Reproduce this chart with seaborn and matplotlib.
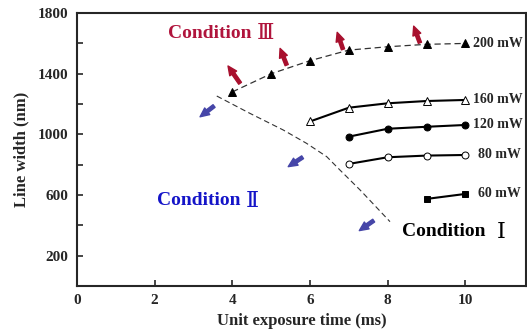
import numpy as np
import pandas as pd
import matplotlib
matplotlib.use("Agg")
import matplotlib.pyplot as plt
import seaborn as sns

# exposure time (ms) and line width (nm) for each laser power
powers = ["200 mW", "160 mW", "120 mW", "80 mW", "60 mW"]
t_200 = [4, 5, 6, 7, 8, 9, 10]
w_200 = [1280, 1400, 1486, 1556, 1578, 1594, 1600]
t_160 = [6, 7, 8, 9, 10]
w_160 = [1085, 1176, 1205, 1220, 1227]
t_120 = [7, 8, 9, 10]
w_120 = [985, 1037, 1050, 1062]
t_80 = [7, 8, 9, 10]
w_80 = [805, 849, 860, 864]
t_60 = [9, 10]
w_60 = [574, 607]

# dashed boundary between condition II and condition I
bound_t = [3.6, 4.45, 5.31, 5.91, 6.43, 6.77, 7.29, 8.06]
bound_w = [1253, 1139, 1029, 941, 853, 765, 633, 424]

# arrows (tail -> head), data coords
red_arrows = [((4.20, 1337), (3.89, 1451)), ((5.40, 1457), (5.23, 1567)),
              ((6.85, 1561), (6.70, 1673)), ((8.83, 1604), (8.67, 1714))]
blue_arrows = [((3.53, 1187), (3.17, 1116)), ((5.81, 849), (5.44, 787)),
               ((7.64, 431), (7.27, 365))]

# region labels: (word x, numeral x, y, numeral, colour)
conditions = [(2.34, 4.64, 1668, "Ⅲ", "#b0143c"),
              (2.05, 4.35, 561, "Ⅱ", "#1414c8"),
              (8.36, 10.82, 358, "Ⅰ", "black")]

sns.set_style("ticks")
plt.rcParams["font.family"] = ["Liberation Serif", "DejaVu Serif"]
plt.rcParams["font.weight"] = "bold"

fig = plt.figure(figsize=(5.27, 3.36), dpi=100)
ax = fig.add_axes([0.146, 0.149, 0.852, 0.812])

series = [
    (t_200, w_200, "^", "black", (0, (5, 3)), 0.9, "#333333"),
    (t_160, w_160, "^", "white", "-", 1.5, "black"),
    (t_120, w_120, "o", "black", "-", 1.5, "black"),
    (t_80, w_80, "o", "white", "-", 1.5, "black"),
    (t_60, w_60, "s", "black", "-", 1.5, "black"),
]
for (t, w, m, fc, ls, lw, lc), name in zip(series, powers):
    df = pd.DataFrame({"t": t, "w": w})
    sns.lineplot(data=df, x="t", y="w", ax=ax, color=lc, linestyle=ls, linewidth=lw,
                 marker=m, markersize=5.2 if m == "^" else 5, markerfacecolor=fc,
                 markeredgecolor="black", markeredgewidth=0.7)
    dx = 0.2 if name in ("200 mW", "160 mW", "120 mW") else 0.32
    ax.text(t[-1] + dx, w[-1], name, fontsize=10, fontweight="bold", va="center", ha="left")

sns.lineplot(x=bound_t, y=bound_w, ax=ax, color="#333333", linestyle=(0, (5, 3)), linewidth=0.8)

style = "simple,head_width=0.6,head_length=0.65,tail_width=0.24"
for (tail, head) in red_arrows:
    ax.annotate("", xy=head, xytext=tail,
                arrowprops=dict(arrowstyle=style, color="#a8102e", mutation_scale=10,
                                shrinkA=0, shrinkB=0))
for (tail, head) in blue_arrows:
    ax.annotate("", xy=head, xytext=tail,
                arrowprops=dict(arrowstyle=style, color="#4646a8", mutation_scale=10,
                                shrinkA=0, shrinkB=0))

for wx, nx, y, num, col in conditions:
    ax.text(wx, y, "Condition", color=col, fontsize=14, fontweight="bold", va="center")
    ax.text(nx, y, num, color=col, fontsize=16, fontweight="normal", va="center",
            family=["DejaVu Serif", "Noto Sans CJK SC"])

ax.set_xlim(0, 11.56)
ax.set_ylim(0, 1800)
ax.set_xticks([0, 2, 4, 6, 8, 10])
ax.set_yticks(range(200, 1801, 200))
ax.set_yticklabels([str(v) if v % 400 == 200 else "" for v in range(200, 1801, 200)])
ax.tick_params(direction="in", length=4, width=1.2, labelsize=11, pad=6)
for lab in ax.get_xticklabels() + ax.get_yticklabels():
    lab.set_fontweight("bold")
for sp in ax.spines.values():
    sp.set_linewidth(1.5)
ax.set_xlabel("Unit exposure time (ms)", fontsize=12, fontweight="bold", labelpad=4)
ax.set_ylabel("Line width (nm)", fontsize=12, fontweight="bold", labelpad=6)

fig.savefig("out.png", dpi=100)
